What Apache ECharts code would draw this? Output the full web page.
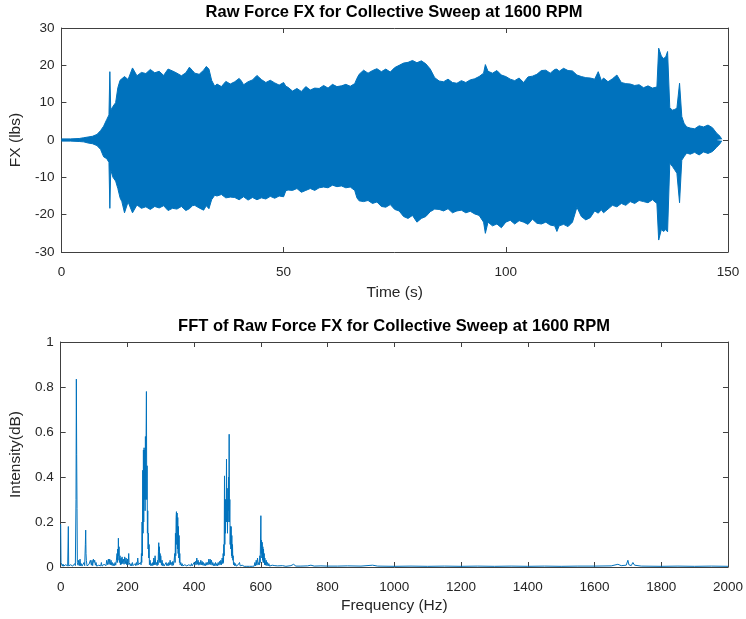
<!DOCTYPE html>
<html>
<head>
<meta charset="utf-8">
<title>Raw Force FX</title>
<script src="https://cdn.jsdelivr.net/npm/echarts@6/dist/echarts.min.js"></script>
<style>
  html, body { margin: 0; padding: 0; background: #fff; }
  #chart { width: 746px; height: 619px; }
</style>
</head>
<body>
<div id="chart"></div>
<script>
// envelope of the raw force signal (time in s, force in lbs)
var timeS = [0, 2, 4, 5, 6, 7, 8, 8.8, 9.5, 10.2, 10.7, 10.9, 11.1, 11.6, 12.2, 12.7, 13.2, 13.6, 14.2, 15,
  16, 17, 18, 19, 20, 21, 22, 23, 24, 25, 26, 27, 28, 28.8, 29.5, 30, 31, 32, 32.6, 33.2,
  33.8, 34.5, 35, 36, 37, 38, 39, 40, 40.5, 41, 42, 43, 44, 45, 46, 47, 48, 49, 50, 50.5,
  51, 52, 53, 54, 55, 56, 57, 58, 59, 60, 61, 62, 63, 64, 65, 66, 66.5, 67, 68, 69,
  70, 71, 72, 73, 74, 75, 76, 77, 78, 79, 80, 81, 82, 83, 84, 85, 86, 87, 88, 89,
  90, 91, 92, 93, 94, 95, 95.4, 96, 97, 98, 99, 100, 101, 102, 103, 104, 105, 106, 107, 108,
  109, 110, 111, 111.5, 112, 113, 114, 115, 116, 117, 118, 119, 120, 120.8, 121.5, 122, 123, 124, 125, 126,
  127, 128, 129, 130, 131, 132, 133, 134, 134.4, 135, 135.5, 136, 136.4, 136.9, 137.5, 138, 138.5, 139.1, 139.6, 140.1,
  140.7, 141.5, 142.5, 143.5, 144.5, 145.5, 146.5, 147.4, 148.2, 148.6];
var forceUpper = [0.3, 0.3, 0.4, 0.6, 0.8, 1.0, 1.5, 2.5, 3.7, 5.5, 6.7, 18.3, 8, 9, 10, 14, 16, 16.5, 17, 16.2,
  19.3, 17.2, 18.1, 17.8, 18.9, 18.0, 18.4, 17.3, 19.0, 18.5, 17.9, 17.2, 18.0, 19.5, 18.6, 17.9, 17.6, 18.7, 19.7, 19.0,
  16, 14.4, 15.0, 14.3, 15.7, 15.0, 15.6, 16.5, 15.8, 14.8, 15.6, 16.1, 17.3, 16.2, 15.4, 16.0, 15.3, 14.7, 15.4, 14.4,
  14.1, 13.1, 13.8, 13.0, 14.3, 13.4, 13.9, 13.8, 14.6, 13.9, 14.9, 14.3, 14.5, 14.9, 14.4, 15.1, 16.5, 17.6, 18.7, 17.9,
  18.6, 19.1, 18.3, 19.0, 18.2, 19.4, 20.0, 20.6, 20.8, 21.3, 20.7, 21.2, 20.4, 19.0, 16.7, 15.8, 15.6, 16.3, 15.4, 15.2,
  15.9, 15.4, 16.1, 16.4, 17.0, 17.9, 20.2, 18.4, 17.9, 18.6, 17.4, 17.0, 16.3, 15.9, 16.6, 15.4, 16.9, 17.1, 17.6, 18.6,
  18.7, 17.9, 18.9, 19.0, 18.4, 19.2, 18.6, 18.5, 17.4, 17.0, 16.7, 16.6, 16.3, 18.3, 15.9, 16.6, 15.6, 16.4, 17.4, 15.4,
  15.1, 15.0, 14.6, 14.8, 14.0, 14.5, 13.9, 14.2, 24.6, 22.5, 21.8, 22.3, 23.7, 8.6, 8, 8.2, 8.5, 15.2, 6.3, 4.5,
  3.5, 3.2, 3.0, 3.8, 3.5, 4.0, 3.3, 1.9, 1, 0.2];
var forceLower = [-0.3, -0.3, -0.4, -0.5, -0.8, -1.0, -1.5, -2.5, -4.5, -5, -6, -18.3, -8, -10, -11, -13, -15.5, -16.5, -19.5, -16.6,
  -19.5, -17.4, -18.3, -17.9, -18.6, -17.8, -18.2, -17.6, -18.9, -18.3, -18.5, -17.8, -18.9, -18.4, -17.6, -17.5, -18.2, -18.8, -17.6, -18.4,
  -16, -14.8, -15.0, -14.6, -15.5, -15.3, -15.4, -16.0, -15.6, -15.2, -16.1, -15.4, -16.0, -15.5, -15.8, -15.1, -15.6, -15.0, -15.2, -13.6,
  -13.4, -13.5, -13.0, -14.0, -13.5, -13.0, -13.5, -12.8, -12.6, -12.8, -12.1, -12.5, -12.3, -12.8, -12.6, -13.5, -15.5, -16.3, -16.5, -16.2,
  -17.0, -16.6, -17.8, -18.0, -17.3, -18.6, -19.0, -20.5, -21.0, -20.2, -22.0, -21.0, -20.5, -19.2, -18.5, -18.6, -19.0, -18.4, -19.5, -19.0,
  -18.8, -19.5, -19.1, -19.8, -20.2, -22, -25, -22.0, -23.0, -22.5, -23.5, -22.0, -21.5, -22.5, -21.6, -22.0, -22.6, -21.2, -22.3, -22.5,
  -22.0, -22.8, -23.0, -24.5, -23.0, -22.6, -23.2, -22.0, -18, -20.5, -21.4, -20.8, -19.0, -19.6, -18.7, -19.5, -18.5, -17.5, -17.9, -17.0,
  -17.5, -16.5, -17.0, -16.2, -16.5, -16.8, -16.0, -17.0, -26.8, -24, -24.5, -24, -24.6, -6.2, -7.1, -8, -8.9, -16.8, -5.4, -4.5,
  -3.5, -3.8, -3.3, -4.0, -3.2, -3.6, -3.1, -2.0, -1, -0.2];

// spectrum: [frequency Hz, intensity]
var spectrum = [
  [0, 0.19], [1, 0.02], [3, 0.012], [5, 0.004], [7, 0.013], [9, 0.004], [11, 0.012], [13, 0.004], [15, 0.01], [17, 0.004],
  [19, 0.012], [21, 0.005], [23, 0.18], [24, 0.005], [26, 0.012], [28, 0.004], [30, 0.01], [32, 0.004], [34, 0.012], [36, 0.004],
  [38, 0.01], [40, 0.005], [42, 0.015], [44, 0.006], [46, 0.3], [47, 0.835], [48, 0.5], [49, 0.26], [50, 0.02], [52, 0.008],
  [54, 0.03], [56, 0.006], [58, 0.035], [60, 0.005], [62, 0.015], [64, 0.004], [66, 0.012], [68, 0.005], [70, 0.02], [72, 0.006],
  [74, 0.1], [75, 0.164], [76, 0.06], [77, 0.03], [79, 0.005], [81, 0.01], [83, 0.004], [85, 0.012], [87, 0.005], [89, 0.03],
  [91, 0.035], [92, 0.008], [94, 0.03], [96, 0.006], [98, 0.035], [100, 0.02], [102, 0.03], [104, 0.008], [106, 0.02], [108, 0.004],
  [110, 0.01], [112, 0.004], [114, 0.008], [116, 0.004], [118, 0.012], [120, 0.005], [122, 0.02], [124, 0.004], [126, 0.01], [128, 0.004],
  [130, 0.012], [132, 0.005], [134, 0.015], [136, 0.006], [138, 0.03], [140, 0.035], [141, 0.01], [143, 0.035], [145, 0.012], [147, 0.035],
  [149, 0.01], [151, 0.03], [153, 0.008], [155, 0.02], [157, 0.005], [159, 0.015], [161, 0.006], [163, 0.02], [165, 0.008], [167, 0.03],
  [169, 0.06], [170, 0.02], [171, 0.08], [172, 0.03], [173, 0.128], [174, 0.05], [175, 0.09], [176, 0.02], [178, 0.05], [179, 0.01],
  [181, 0.04], [182, 0.012], [184, 0.045], [186, 0.015], [188, 0.035], [190, 0.012], [192, 0.045], [194, 0.015], [196, 0.04], [198, 0.01],
  [200, 0.035], [202, 0.01], [204, 0.06], [205, 0.02], [207, 0.025], [209, 0.006], [211, 0.015], [213, 0.005], [215, 0.02], [217, 0.006],
  [219, 0.012], [221, 0.005], [223, 0.015], [225, 0.006], [227, 0.02], [229, 0.008], [231, 0.04], [233, 0.01], [235, 0.015], [237, 0.008],
  [239, 0.02], [241, 0.01], [242, 0.06], [243, 0.02], [244, 0.2], [245, 0.05], [246, 0.43], [247, 0.15], [248, 0.52], [249, 0.2],
  [250, 0.53], [251, 0.3], [252, 0.52], [253, 0.25], [254, 0.58], [255, 0.3], [256, 0.57], [257, 0.78], [258, 0.3], [259, 0.45],
  [260, 0.15], [261, 0.25], [262, 0.08], [263, 0.15], [264, 0.04], [265, 0.1], [266, 0.01], [268, 0.03], [270, 0.006], [272, 0.015],
  [274, 0.005], [276, 0.02], [278, 0.008], [279, 0.04], [281, 0.01], [283, 0.05], [285, 0.01], [287, 0.02], [289, 0.006], [291, 0.03],
  [292, 0.01], [293, 0.07], [294, 0.108], [295, 0.03], [296, 0.09], [297, 0.02], [298, 0.06], [299, 0.02], [300, 0.05], [302, 0.008],
  [304, 0.03], [306, 0.005], [308, 0.015], [310, 0.004], [312, 0.012], [314, 0.005], [316, 0.02], [318, 0.006], [320, 0.015], [322, 0.005],
  [324, 0.02], [326, 0.008], [328, 0.03], [330, 0.01], [332, 0.02], [334, 0.006], [336, 0.025], [338, 0.008], [340, 0.03], [342, 0.06],
  [343, 0.02], [344, 0.15], [345, 0.05], [346, 0.22], [347, 0.246], [348, 0.1], [349, 0.24], [350, 0.08], [351, 0.22], [352, 0.06],
  [353, 0.18], [354, 0.04], [355, 0.14], [356, 0.02], [357, 0.06], [358, 0.01], [360, 0.02], [362, 0.005], [364, 0.015], [366, 0.005],
  [368, 0.01], [370, 0.004], [372, 0.01], [374, 0.004], [376, 0.015], [378, 0.005], [380, 0.012], [382, 0.004], [384, 0.01], [386, 0.004],
  [388, 0.012], [390, 0.005], [392, 0.015], [394, 0.005], [396, 0.012], [398, 0.006], [400, 0.02], [402, 0.008], [404, 0.025], [406, 0.01],
  [408, 0.04], [410, 0.012], [412, 0.03], [414, 0.008], [416, 0.02], [418, 0.01], [420, 0.03], [422, 0.01], [424, 0.025], [426, 0.008],
  [428, 0.02], [430, 0.006], [432, 0.015], [434, 0.006], [436, 0.02], [438, 0.008], [440, 0.02], [442, 0.01], [444, 0.035], [446, 0.012],
  [448, 0.035], [450, 0.01], [452, 0.03], [454, 0.008], [456, 0.02], [458, 0.006], [460, 0.015], [462, 0.005], [464, 0.02], [466, 0.006],
  [468, 0.015], [470, 0.005], [472, 0.02], [474, 0.008], [476, 0.025], [478, 0.01], [480, 0.03], [482, 0.01], [484, 0.04], [486, 0.015],
  [487, 0.06], [488, 0.02], [489, 0.1], [490, 0.05], [491, 0.405], [492, 0.1], [493, 0.3], [494, 0.15], [495, 0.3], [496, 0.2],
  [497, 0.48], [498, 0.2], [499, 0.35], [500, 0.15], [501, 0.3], [502, 0.2], [503, 0.4], [504, 0.25], [505, 0.59], [506, 0.2],
  [507, 0.3], [508, 0.1], [509, 0.18], [510, 0.08], [511, 0.18], [512, 0.05], [513, 0.14], [514, 0.04], [515, 0.1], [516, 0.03],
  [517, 0.05], [518, 0.01], [520, 0.02], [522, 0.005], [524, 0.015], [526, 0.004], [528, 0.012], [530, 0.004], [532, 0.01], [534, 0.004],
  [536, 0.02], [538, 0.005], [540, 0.01], [542, 0.004], [544, 0.008], [546, 0.003], [548, 0.008], [550, 0.003], [554, 0.006], [558, 0.003],
  [562, 0.01], [566, 0.003], [570, 0.008], [574, 0.003], [578, 0.01], [580, 0.004], [582, 0.02], [584, 0.005], [586, 0.03], [588, 0.008],
  [590, 0.04], [592, 0.01], [594, 0.02], [596, 0.01], [597, 0.05], [598, 0.02], [599, 0.12], [600, 0.228], [601, 0.06], [602, 0.12],
  [603, 0.04], [604, 0.11], [605, 0.03], [606, 0.09], [607, 0.02], [608, 0.08], [609, 0.02], [610, 0.06], [611, 0.01], [612, 0.04],
  [614, 0.008], [616, 0.03], [618, 0.006], [620, 0.02], [622, 0.005], [624, 0.015], [626, 0.004], [628, 0.01], [630, 0.003], [634, 0.008],
  [638, 0.003], [642, 0.006], [646, 0.003], [650, 0.005], [655, 0.003], [665, 0.006], [675, 0.003], [690, 0.006], [698, 0.012], [705, 0.004],
  [720, 0.004], [740, 0.005], [750, 0.008], [760, 0.004], [780, 0.005], [800, 0.004], [830, 0.004], [860, 0.005], [900, 0.004], [935, 0.008],
  [950, 0.004], [1000, 0.003], [1050, 0.004], [1100, 0.003], [1150, 0.004], [1200, 0.003], [1250, 0.004], [1300, 0.003], [1350, 0.004], [1400, 0.003],
  [1450, 0.004], [1500, 0.003], [1550, 0.004], [1600, 0.004], [1650, 0.005], [1670, 0.012], [1680, 0.006], [1695, 0.008], [1700, 0.03], [1703, 0.01],
  [1710, 0.006], [1715, 0.02], [1720, 0.008], [1740, 0.004], [1800, 0.003], [1850, 0.004], [1900, 0.003], [1950, 0.004], [2000, 0.003]
];

var timeTicks = [0, 50, 100, 150];
var forceTicks = [-30, -20, -10, 0, 10, 20, 30];
var freqTicks = [0, 200, 400, 600, 800, 1000, 1200, 1400, 1600, 1800, 2000];
var intensityTicks = [0, 0.2, 0.4, 0.6, 0.8, 1];

var lineColor = '#0072BD';
var axisColor = '#404040';
var textColor = '#262626';
var font = 'Liberation Sans, Arial, Helvetica, sans-serif';

function pairs(xs, ys) {
  return xs.map(function (x, i) { return [x, ys[i]]; });
}

function axis(opts, ticks, showLabel, extra) {
  var a = {
    type: 'value',
    gridIndex: opts.grid,
    position: opts.position,
    min: ticks[0],
    max: ticks[ticks.length - 1],
    interval: ticks[1] - ticks[0],
    axisLine: { show: true, onZero: false, lineStyle: { color: axisColor, width: 1 } },
    axisTick: { show: true, inside: true, length: 5, lineStyle: { color: axisColor } },
    axisLabel: {
      show: showLabel, color: textColor, fontSize: 13.5, fontFamily: font, margin: opts.margin || 8,
      formatter: function (v) { return String(v); } // no thousands separators
    },
    splitLine: { show: false }
  };
  return Object.assign(a, extra || {});
}

function axisName(text, gap) {
  return {
    name: text, nameLocation: 'middle', nameGap: gap,
    nameTextStyle: { fontSize: 15.5, color: textColor, fontFamily: font }
  };
}

var chart = echarts.init(document.getElementById('chart'), null, { renderer: 'canvas' });

var option = {
  animation: false,
  backgroundColor: '#fff',
  title: [
    {
      text: 'Raw Force FX for Collective Sweep at 1600 RPM',
      left: 394, top: 4, padding: 0, textAlign: 'center',
      textStyle: { fontSize: 16.5, fontWeight: 'bold', color: '#000', fontFamily: font }
    },
    {
      text: 'FFT of Raw Force FX for Collective Sweep at 1600 RPM',
      left: 394, top: 318, padding: 0, textAlign: 'center',
      textStyle: { fontSize: 16.5, fontWeight: 'bold', color: '#000', fontFamily: font }
    }
  ],
  grid: [
    { left: 60, top: 28, width: 668, height: 224 },
    { left: 60, top: 342, width: 668, height: 225 }
  ],
  xAxis: [
    axis({ grid: 0, position: 'bottom', margin: 13 }, timeTicks, true, axisName('Time (s)', 33)),
    axis({ grid: 0, position: 'top' }, timeTicks, false),
    axis({ grid: 1, position: 'bottom', margin: 13 }, freqTicks, true, axisName('Frequency (Hz)', 31)),
    axis({ grid: 1, position: 'top' }, freqTicks, false)
  ],
  yAxis: [
    axis({ grid: 0, position: 'left', margin: 7 }, forceTicks, true, axisName('FX (lbs)', 37)),
    axis({ grid: 0, position: 'right' }, forceTicks, false),
    axis({ grid: 1, position: 'left', margin: 7 }, intensityTicks, true, axisName('Intensity(dB)', 34)),
    axis({ grid: 1, position: 'right' }, intensityTicks, false)
  ],
  series: [
    {
      type: 'line', xAxisIndex: 0, yAxisIndex: 0,
      data: pairs(timeS, forceUpper),
      symbol: 'none', silent: true,
      lineStyle: { color: lineColor, width: 1 },
      areaStyle: { color: lineColor, opacity: 1, origin: 'auto' }
    },
    {
      type: 'line', xAxisIndex: 0, yAxisIndex: 0,
      data: pairs(timeS, forceLower),
      symbol: 'none', silent: true,
      lineStyle: { color: lineColor, width: 1 },
      areaStyle: { color: lineColor, opacity: 1, origin: 'auto' }
    },
    {
      type: 'line', xAxisIndex: 2, yAxisIndex: 2,
      data: spectrum,
      symbol: 'none', silent: true,
      lineStyle: { color: lineColor, width: 1 }
    }
  ]
};

chart.setOption(option);
</script>
</body>
</html>
